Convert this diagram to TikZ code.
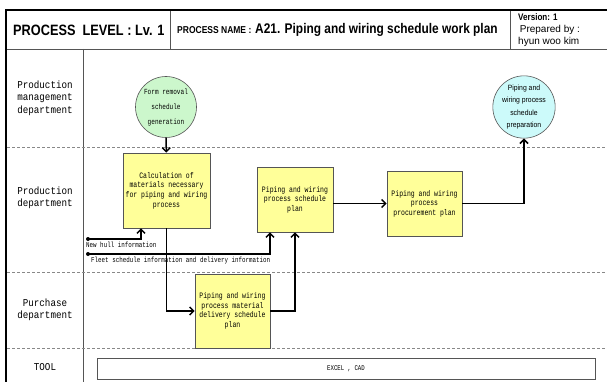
\documentclass[tikz,border=0pt]{standalone}
\usepackage{fontspec}
\setmainfont{Liberation Sans}
\newfontfamily\hdrfont[FakeStretch=0.85]{Liberation Sans}
\newfontfamily\boxfont[FakeStretch=0.78]{Liberation Mono}
\newfontfamily\lanefont[FakeStretch=0.88]{Liberation Mono}
\newfontfamily\circfont[FakeStretch=0.9]{Liberation Sans}
\usetikzlibrary{arrows.meta,calc}

\definecolor{boxyellow}{HTML}{FFFF99}
\definecolor{circgreen}{HTML}{CCF7CC}
\definecolor{circcyan}{HTML}{CCFAFA}
\definecolor{edgegray}{HTML}{555555}
\definecolor{dashgray}{HTML}{888888}

\tikzset{
  frame/.style={line width=1.6pt, black},
  rule/.style={line width=0.6pt, edgegray},
  lanesep/.style={dashgray, line width=0.6pt, dash pattern=on 3pt off 2pt},
  procbox/.style={draw=edgegray, line width=0.6pt, fill=boxyellow, align=center,
    inner sep=1pt, font=\boxfont\fontsize{8.3}{9.6}\selectfont},
  eventcirc/.style={circle, draw=edgegray, line width=0.6pt, align=center,
    inner sep=0pt, minimum size=61pt},
  lanelabel/.style={align=center, font=\lanefont\fontsize{10.5}{12.5}\selectfont},
  smalllabel/.style={anchor=west, inner sep=0pt, font=\boxfont\fontsize{7.5}{9}\selectfont},
  flow/.style={line width=1.5pt, -{Straight Barb[length=4pt,width=8pt]}},
  dotstart/.style={circle, fill=black, inner sep=0pt, minimum size=4pt}
}

\begin{document}
\begin{tikzpicture}[x=1pt,y=-1pt]
\useasboundingbox (0,0) rectangle (607,382);

% header band and outer frame
\draw[rule] (6,49) -- (607,49);
\draw[rule] (170,10) -- (170,49);
\draw[rule] (510,10) -- (510,49);
\draw[rule] (83,49) -- (83,382);
\draw[frame] (607,10) -- (6,10) -- (6,382);

\node[anchor=west, inner sep=0pt] (lvl) at (13,30)
  {\hdrfont\fontsize{15}{18}\selectfont\bfseries PROCESS\ \ LEVEL : Lv. 1};
\node[anchor=west, inner sep=0pt] (pname) at (177,30.5)
  {\hdrfont\fontsize{10}{12}\selectfont\bfseries PROCESS NAME :};
\node[anchor=west, inner sep=0pt] (ptitle) at (255,30)
  {\hdrfont\fontsize{14}{16}\selectfont\bfseries A21. Piping and wiring schedule work plan};
\node[anchor=west, inner sep=0pt, align=left] (pver) at (518,30)
  {\hdrfont\fontsize{9.5}{13}\selectfont\bfseries Version: 1\\ \,Prepared by :\\ hyun woo kim};

% swimlane separators
\draw[lanesep] (7,147) -- (607,147);
\draw[lanesep] (7,272) -- (607,272);
\draw[lanesep] (7,348) -- (607,348);

% lane titles
\node[lanelabel] (lane1) at (45,98) {Production\\management\\department};
\node[lanelabel] (lane2) at (45,198) {Production\\department};
\node[lanelabel] (lane3) at (45,310) {Purchase\\department};
\node[lanelabel] (lane4) at (45,367) {TOOL};

% events
\node[eventcirc, fill=circgreen, font=\boxfont\fontsize{7.8}{15}\selectfont] (fr) at (166,107)
  {Form removal\\schedule\\generation};
\node[eventcirc, fill=circcyan, font=\circfont\fontsize{7.6}{12.5}\selectfont] (pw) at (524,107)
  {Piping and\\wiring process\\schedule\\preparation};

% activities
\node[procbox, minimum width=87pt, minimum height=75pt] (calc) at (166.5,190.5)
  {Calculation of\\materials necessary\\for piping and wiring\\process};
\node[procbox, minimum width=76pt, minimum height=65pt] (sched) at (295,199.5)
  {Piping and wiring\\process schedule\\plan};
\node[procbox, minimum width=75pt, minimum height=65pt] (proc) at (424.5,203.5)
  {Piping and wiring\\process\\procurement plan};
\node[procbox, minimum width=75pt, minimum height=74pt] (pur) at (232.5,311)
  {Piping and wiring\\process material\\delivery schedule\\plan};

% tool box
\node[draw=edgegray, line width=0.6pt, minimum width=498pt, minimum height=21pt,
  font=\boxfont\fontsize{7.3}{8}\selectfont] (tool) at (346,368.5) {EXCEL , CAD};

% external inputs
\node[dotstart] (hulldot) at (88,239) {};
\node[dotstart] (fleetdot) at (88,254) {};
\node[smalllabel] (hulltxt) at (86,244.5) {New hull information};
\node[smalllabel] (fleettxt) at (91,261) {Fleet schedule information and delivery information};

% flows
\draw[flow] (fr) -- (calc);
\draw[flow] (calc.south) |- (pur.west);
\draw[flow] (pur.east) -| (sched.south);
\draw[flow] (hulldot.center) -| ([xshift=-25.5pt]calc.south);
\draw[flow] (fleetdot.center) -| ([xshift=-25pt]sched.south);
\draw[flow] (proc.west -| sched.east) -- (proc.west);
\draw[flow] (proc.east) -| (pw.south);
\end{tikzpicture}
\end{document}
